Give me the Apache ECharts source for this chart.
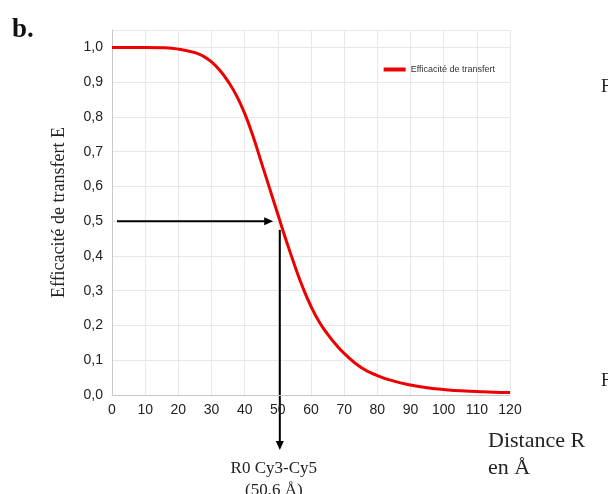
<!DOCTYPE html>
<html><head><meta charset="utf-8">
<script src="https://cdn.jsdelivr.net/npm/echarts@6/dist/echarts.min.js"></script>
<style>html,body{margin:0;padding:0;background:#fff}#c{width:608px;height:494px}</style>
</head><body><div id="c"></div>
<script>
// Distance R (Å)
const distances = [0,5,10,15,20,25,27.5,30,32.5,35,37.5,40,42.5,45,47.5,50,52.5,55,57.5,60,62.5,65,67.5,70,75,80,85,90,95,100,105,110,115,120];
// Efficacité de transfert E
const efficiency = [1.0,1.0,1.0,0.999,0.995,0.985,0.975,0.958,0.934,0.902,0.862,0.81,0.745,0.67,0.595,0.52,0.445,0.375,0.31,0.255,0.21,0.175,0.145,0.12,0.08,0.056,0.04,0.029,0.021,0.016,0.012,0.01,0.008,0.007];
const seriesName = 'Efficacité de transfert';
const r0 = 50.6;
const halfE = 0.5;
const xTicks = {min:0, max:120, step:10};
const yTicks = {min:0, max:1.05, step:0.1};

const chart = echarts.init(document.getElementById('c'));
const serif = '"Liberation Serif","Times New Roman",serif';
const sans = '"Liberation Sans",Arial,sans-serif';
chart.setOption({
  animation:false,
  backgroundColor:'#fff',
  grid:{left:112, right:98, top:30, bottom:99},
  legend:{right:108, top:60, itemWidth:22, itemHeight:4, textStyle:{fontSize:9, color:'#333', fontFamily:sans},
    data:[{name:seriesName, icon:'rect', itemStyle:{color:'#ee0000'}}]},
  xAxis:{type:'value', min:xTicks.min, max:xTicks.max, interval:xTicks.step,
    axisLine:{show:true, lineStyle:{color:'#c8c8c8'}}, axisTick:{show:false},
    axisLabel:{color:'#222', fontSize:14, fontFamily:sans, margin:8},
    splitLine:{show:true, lineStyle:{color:'#e8e8e8'}}},
  yAxis:{type:'value', min:yTicks.min, max:yTicks.max, interval:yTicks.step,
    name:'Efficacité de transfert E', nameLocation:'middle', nameGap:44, nameRotate:90,
    nameTextStyle:{fontFamily:serif, fontSize:18, color:'#222'},
    axisLine:{show:true, lineStyle:{color:'#c8c8c8'}}, axisTick:{show:false},
    axisLabel:{color:'#222', fontSize:14, fontFamily:sans, margin:9,
      formatter:v=>Math.abs(v*10-Math.round(v*10))>1e-6?'':v.toFixed(1).replace('.',',')},
    splitLine:{show:true, lineStyle:{color:'#e8e8e8'}}},
  series:[{name:seriesName, type:'line', smooth:0.5, symbol:'none',
    lineStyle:{color:'#ee0000', width:3}, itemStyle:{color:'#ee0000'},
    data:distances.map((d,i)=>[d,efficiency[i]])}]
});

function px(x,y){return chart.convertToPixel({gridIndex:0},[x,y]);}
function arrowHead(tip, dir){ // dir: 'right' | 'down'
  const [x,y]=tip; const L=9, W=4;
  const pts = dir==='right' ? [[x,y],[x-L,y-W],[x-L,y+W]] : [[x,y],[x-W,y-L],[x+W,y-L]];
  return {type:'polygon', shape:{points:pts}, style:{fill:'#000'}};
}
const hStart = px(1.5, halfE), hEnd = px(48.6, halfE);
const vStart = px(r0, 0.475), vEnd = px(r0, -0.158);
chart.setOption({graphic:[
  {type:'line', shape:{x1:hStart[0], y1:hStart[1], x2:hEnd[0]-6, y2:hEnd[1]}, style:{stroke:'#000', lineWidth:2}},
  arrowHead(hEnd,'right'),
  {type:'line', shape:{x1:vStart[0], y1:vStart[1], x2:vEnd[0], y2:vEnd[1]-6}, style:{stroke:'#000', lineWidth:2}},
  arrowHead(vEnd,'down'),
  {type:'text', left:12, top:17, style:{text:'b.', font:'bold 27px '+serif, fill:'#111'}},
  {type:'text', x:vEnd[0]-6, y:458, style:{text:'R0 Cy3-Cy5\n(50,6 Å)', font:'17px '+serif, fill:'#222', textAlign:'center', lineHeight:22}},
  {type:'text', left:488, top:428, style:{text:'Distance R\nen Å', font:'22px '+serif, fill:'#222', lineHeight:27}},
  {type:'text', left:601, top:78, style:{text:'F', font:'18px '+serif, fill:'#222'}},
  {type:'text', left:601, top:372, style:{text:'F', font:'18px '+serif, fill:'#222'}}
]});
</script></body></html>
